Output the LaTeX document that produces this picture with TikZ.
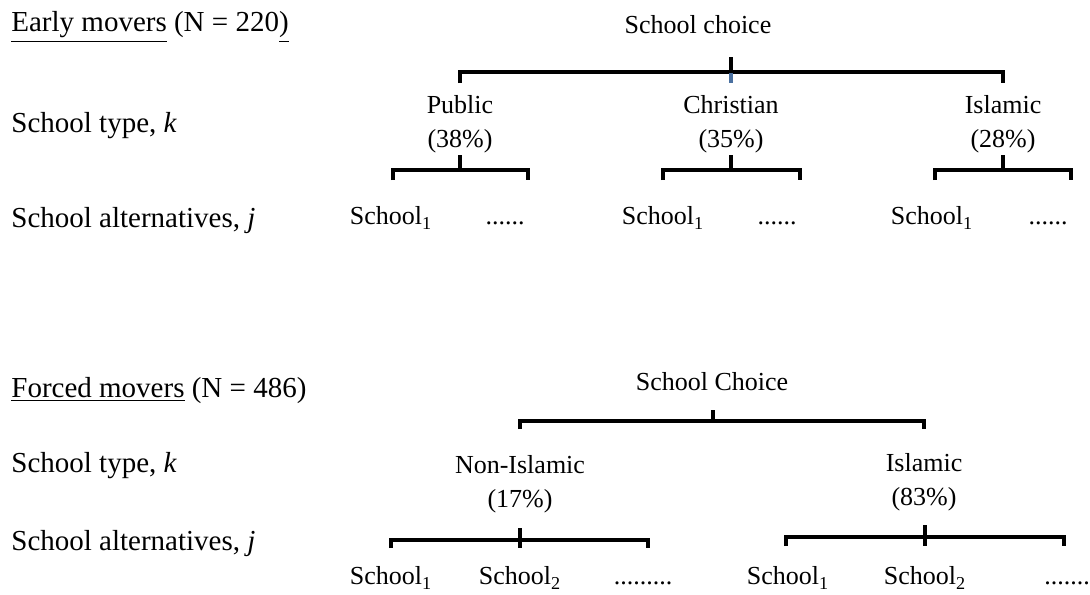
\documentclass[tikz,border=0pt]{standalone}
\usepackage{fontspec}
\setmainfont{Liberation Serif}
\usetikzlibrary{positioning}
\definecolor{tickblue}{RGB}{74,112,160}
\tikzset{
  side/.style={anchor=base west, inner sep=0pt, font=\fontsize{14.5}{17}\selectfont},
  lab/.style={anchor=base, inner sep=0pt, align=center, font=\fontsize{13}{17}\selectfont},
  brk/.style={line width=2pt},
}
\newcommand{\sch}[1]{School\raisebox{-0.8pt}{\textsubscript{#1}}}

\begin{document}
\begin{tikzpicture}[x=0.5pt, y=-0.5pt]
  \useasboundingbox (0,0) rectangle (1090,594);
  % early movers
  \node[side] (hdA) at (11,32) {\underline{Early movers} (N = 220\underline{)}};
  \node[side] (typeA) at (11,132) {School type, \textit{k}};
  \node[side] (altA) at (11,227) {School alternatives, \textit{j}};
  \node[lab] (rootA) at (698,33) {School choice};
  \node[lab] (pub) at (460,147) {Public\\(38\%)};
  \node[lab] (chr) at (731,147) {Christian\\(35\%)};
  \node[lab] (isl) at (1003,147) {Islamic\\(28\%)};
  \draw[brk] (460,83) |- (1003,72) -- (1003,83);
  \draw[brk] (731,57) -- (731,72);
  \draw[brk, tickblue] (731,73) -- (731,83);
  \foreach \l/\m/\r in {393/460/528, 663/731/800, 935/1003/1071} {
    \draw[brk] (\l,180) |- (\r,170) -- (\r,180);
    \draw[brk] (\m,155) -- (\m,170);
  }
  \node[lab] (pub1) at (391,224) {\sch{1}};
  \node[lab] (pubd) at (505,224) {......};
  \node[lab] (chr1) at (663,224) {\sch{1}};
  \node[lab] (chrd) at (777,224) {......};
  \node[lab] (isl1) at (932,224) {\sch{1}};
  \node[lab] (isld) at (1048,224) {......};
  % forced movers
  \node[side] (hdB) at (11,397) {\underline{Forced movers} (N = 486)};
  \node[side] (typeB) at (11,472) {School type, \textit{k}};
  \node[side] (altB) at (11,550) {School alternatives, \textit{j}};
  \node[lab] (rootB) at (712,390) {School Choice};
  \node[lab] (non) at (520,507) {Non-Islamic\\(17\%)};
  \node[lab] (islB) at (924,505) {Islamic\\(83\%)};
  \draw[brk] (520,429) |- (924,421) -- (924,429);
  \draw[brk] (713,410) -- (713,421);
  \draw[brk] (391,548) |- (648,540) -- (648,548);
  \draw[brk] (520,528) -- (520,548);
  \draw[brk] (786,546) |- (1064,537) -- (1064,546);
  \draw[brk] (925,525) -- (925,546);
  \node[lab] (non1) at (391,584) {\sch{1}};
  \node[lab] (non2) at (520,584) {\sch{2}};
  \node[lab] (nond) at (643,584) {.........};
  \node[lab] (isl1B) at (788,584) {\sch{1}};
  \node[lab] (isl2B) at (925,584) {\sch{2}};
  \node[lab, anchor=base west] (isldB) at (1044,584) {.......};
\end{tikzpicture}
\end{document}
